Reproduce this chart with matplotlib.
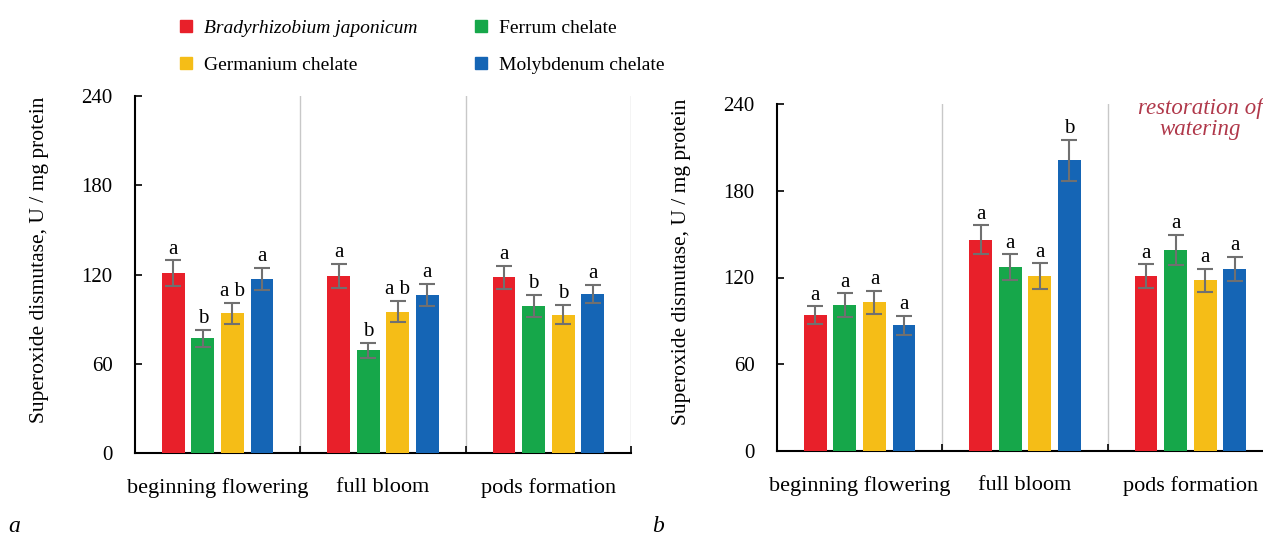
import numpy as np
import matplotlib.pyplot as plt
from matplotlib.lines import Line2D

plt.rcParams["font.family"] = ["Liberation Serif", "DejaVu Serif"]

# stages and treatments
stages = ["beginning flowering", "full bloom", "pods formation"]
treatments = ["Bradyrhizobium japonicum", "Ferrum chelate", "Germanium chelate", "Molybdenum chelate"]
colors = ["#E8202A", "#16A74A", "#F5BD17", "#1565B5"]

# panel a: values per treatment across stages
a_vals = {
    "Bradyrhizobium japonicum": [121, 119, 118],
    "Ferrum chelate": [77, 69, 99],
    "Germanium chelate": [94, 95, 93],
    "Molybdenum chelate": [117, 106, 107],
}
a_err = {
    "Bradyrhizobium japonicum": [8.5, 8, 8],
    "Ferrum chelate": [6, 5, 7.5],
    "Germanium chelate": [7, 7, 6.5],
    "Molybdenum chelate": [7.5, 7.5, 6],
}
a_letters = {
    "Bradyrhizobium japonicum": ["a", "a", "a"],
    "Ferrum chelate": ["b", "b", "b"],
    "Germanium chelate": ["a b", "a b", "b"],
    "Molybdenum chelate": ["a", "a", "a"],
}

# panel b
b_vals = {
    "Bradyrhizobium japonicum": [94, 146, 121],
    "Ferrum chelate": [101, 127, 139],
    "Germanium chelate": [103, 121, 118],
    "Molybdenum chelate": [87, 201, 126],
}
b_err = {
    "Bradyrhizobium japonicum": [6, 10, 8],
    "Ferrum chelate": [8, 9, 10.5],
    "Germanium chelate": [8, 8.7, 8],
    "Molybdenum chelate": [6.5, 14, 8.3],
}
b_letters = {
    "Bradyrhizobium japonicum": ["a", "a", "a"],
    "Ferrum chelate": ["a", "a", "a"],
    "Germanium chelate": ["a", "a", "a"],
    "Molybdenum chelate": ["a", "b", "a"],
}

yticks = [0, 60, 120, 180, 240]
W, H = 1263, 541

fig = plt.figure(figsize=(W / 100, H / 100), dpi=100)
ax_a = fig.add_axes([135 / W, (H - 453) / H, 496 / W, 357 / H])
ax_b = fig.add_axes([777 / W, (H - 451) / H, 496 / W, 347 / H])


def draw_panel(ax, vals, errs, letters, label_y):
    x = np.arange(len(stages)) + 0.5
    offsets = (np.arange(len(treatments)) - 1.5) * 0.179
    for i, t in enumerate(treatments):
        xs = x + offsets[i]
        ax.bar(xs, vals[t], width=0.138, color=colors[i], zorder=3)
        ax.errorbar(xs, vals[t], yerr=errs[t], fmt="none", ecolor="#707070",
                    elinewidth=1.5, capsize=5.5, capthick=1.5, zorder=4)
        for xx, v, e, lab in zip(xs, vals[t], errs[t], letters[t]):
            ax.text(xx, v + e + 1.2, lab, ha="center", va="bottom", fontsize=15)
    for s in [1, 2, 3]:
        ax.axvline(s, ymin=0, ymax=1, color="#c8c8c8", lw=1, zorder=1)
    ax.set_xlim(0, 3)
    ax.set_ylim(0, 240)
    ax.set_yticks(yticks)
    ax.set_xticks(x)
    ax.set_xticklabels(stages, fontsize=16)
    ax.tick_params(axis="x", length=0, pad=18)
    ax.set_xticks([1, 2, 3], minor=True)
    ax.tick_params(axis="x", which="minor", direction="in", length=5, width=1.2)
    ax.tick_params(axis="y", labelsize=15, direction="in", length=5, width=1.2, pad=16)
    for side in ["top", "right"]:
        ax.spines[side].set_visible(False)
    ax.spines["left"].set_linewidth(1.5)
    ax.spines["bottom"].set_linewidth(1.5)
    ax.set_ylabel("Superoxide dismutase, U / mg protein", fontsize=15.5)
    ax.yaxis.set_label_coords(-86 / 496, label_y)


draw_panel(ax_a, a_vals, a_err, a_letters, 0.54)
draw_panel(ax_b, b_vals, b_err, b_letters, 0.545)

ax_b.text(1200 / W, (H - 119) / H, "restoration of\nwatering", transform=fig.transFigure,
          ha="center", va="center", fontsize=16.5, style="italic", color="#B0384A",
          linespacing=1.05)

fig.text(14 / W, (H - 527) / H, "a", fontsize=17, style="italic", ha="center", va="center")
fig.text(658 / W, (H - 527) / H, "b", fontsize=17, style="italic", ha="center", va="center")

# legend
order = [0, 2, 1, 3]
handles = [Line2D([], [], marker="s", ls="none", markersize=9, color=colors[i]) for i in order]
labels = [treatments[i] for i in order]
leg = fig.legend(handles, labels, loc="upper left", bbox_to_anchor=(161 / W, 1 - 2 / H),
                 ncol=2, frameon=False, fontsize=14, handlelength=0.8,
                 handletextpad=0.5, columnspacing=2.9, labelspacing=1.0)
leg.get_texts()[0].set_style("italic")

fig.savefig("out.png", dpi=100)
